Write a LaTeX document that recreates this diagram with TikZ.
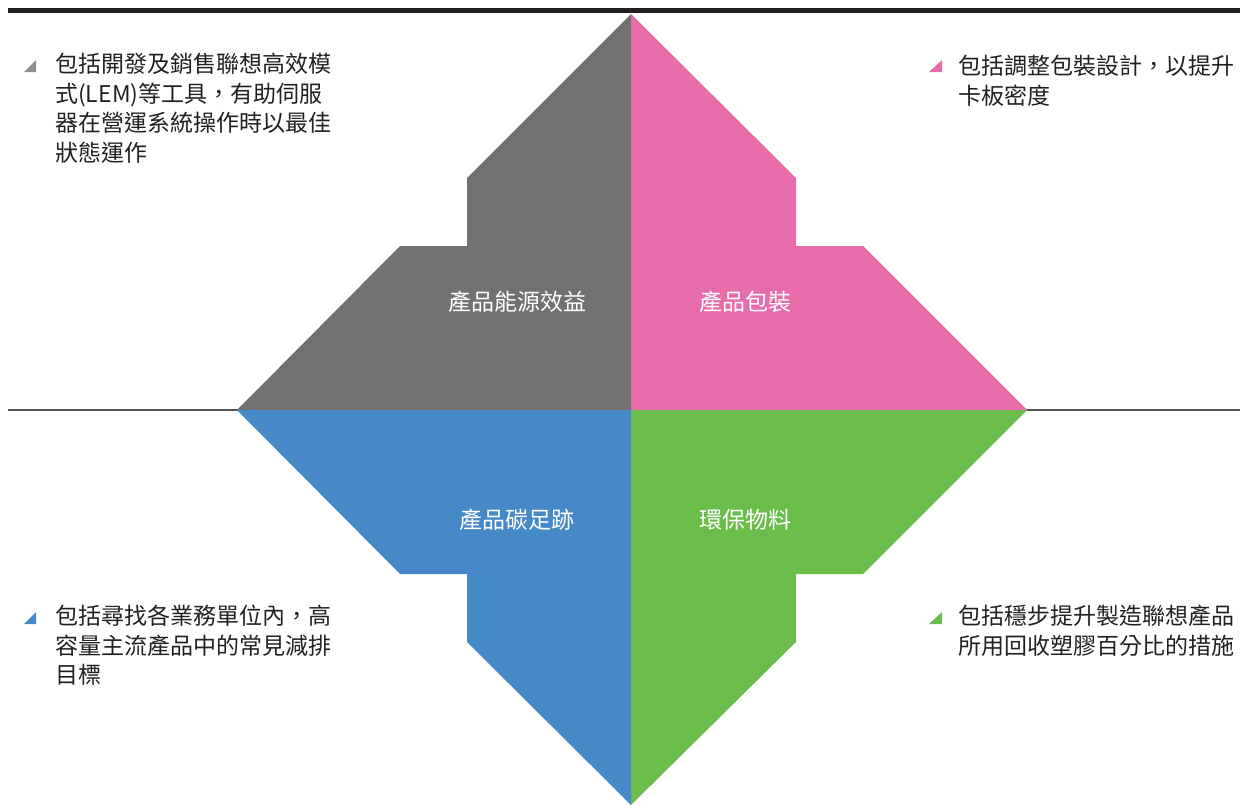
\documentclass[tikz,border=0pt]{standalone}
\usepackage{fontspec}
\setmainfont{Noto Sans CJK TC}
\usepackage{tikz}
\usetikzlibrary{positioning}
\usepackage{xcolor}
\definecolor{quadgray}{HTML}{707170}
\definecolor{quadpink}{HTML}{E86CAA}
\definecolor{quadblue}{HTML}{4689C8}
\definecolor{quadgreen}{HTML}{6BBD4B}
\definecolor{rulegray}{HTML}{555555}
\definecolor{textgray}{HTML}{231F20}

\begin{document}
\begin{tikzpicture}[
  x=1pt, y=-1pt,
  quad/.style={fill=#1, draw=none},
  qlabel/.style={font=\fontsize{23}{28}\selectfont, text=white, inner sep=0pt},
  note/.style={anchor=north west, inner sep=0pt, align=left,
               font=\fontsize{23}{29.5}\selectfont, text=textgray},
  tri/.style={fill=#1}
]
\useasboundingbox (0,0) rectangle (1240,806);

% === Rules ===
\draw[textgray, line width=5pt] (8,10.5) -- (1240,10.5);
\draw[rulegray, line width=1.3pt] (8,410) -- (1240,410);

% === Four quadrants of the cross ===
% Top tip at (631,14), bottom tip at (631,805), side tips at x = 237 / 1027
\fill[quad=quadgray]  (631,14) -- (467,178) -- (467,246) -- (400,246)
  -- (237,410) -- (631,410) -- cycle;
\fill[quad=quadpink]  (631,14) -- (796,178) -- (796,246) -- (863,246)
  -- (1027,410) -- (631,410) -- cycle;
\fill[quad=quadblue]  (237,410) -- (400,574) -- (467,574) -- (467,642)
  -- (631,805) -- (631,410) -- cycle;
\fill[quad=quadgreen] (1027,410) -- (863,574) -- (796,574) -- (796,642)
  -- (631,805) -- (631,410) -- cycle;

% === Quadrant labels ===
\node[qlabel] (energy)  at (517,302) {產品能源效益};
\node[qlabel] (pack)    at (745,302) {產品包裝};
\node[qlabel] (carbon)  at (517,520) {產品碳足跡};
\node[qlabel] (material) at (745,520) {環保物料};

% === Notes with triangle bullets ===
\fill[tri=quadgray!80]  (24,72) -- (36,72) -- (36,60) -- cycle;
\node[note] (energynote) at (55,53)
  {包括開發及銷售聯想高效模\\
   式(LEM)等工具，有助伺服\\
   器在營運系統操作時以最佳\\
   狀態運作};

\fill[tri=quadpink]  (929,72) -- (942,72) -- (942,60) -- cycle;
\node[note] (packnote) at (958,55)
  {包括調整包裝設計，以提升\\
   卡板密度};

\fill[tri=quadblue]  (24,624) -- (36,624) -- (36,612) -- cycle;
\node[note] (carbonnote) at (55,605)
  {包括尋找各業務單位內，高\\
   容量主流產品中的常見減排\\
   目標};

\fill[tri=quadgreen] (929,624) -- (942,624) -- (942,612) -- cycle;
\node[note] (materialnote) at (958,605)
  {包括穩步提升製造聯想產品\\
   所用回收塑膠百分比的措施};

\end{tikzpicture}
\end{document}
